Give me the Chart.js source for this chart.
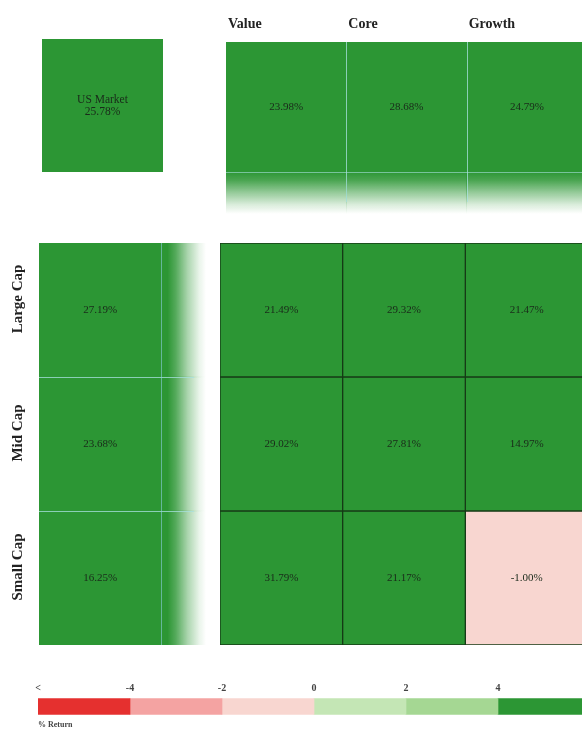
<!DOCTYPE html>
<html>
<head>
<meta charset="utf-8">
<script src="https://cdn.jsdelivr.net/npm/chart.js@4/dist/chart.umd.min.js"></script>
<style>
  html, body { margin:0; padding:0; background:#fff; width:582px; height:731px; overflow:hidden; }
  .c { position:absolute; }
</style>
</head>
<body>
<div class="c" style="left:42px;top:39px;width:121px;height:133px;"><canvas id="mkt"></canvas></div>
<div class="c" style="left:0px;top:0px;width:600px;height:214px;"><canvas id="top"></canvas></div>
<div class="c" style="left:0px;top:243px;width:206px;height:402px;"><canvas id="left"></canvas></div>
<div class="c" style="left:220px;top:243px;width:368px;height:402px;"><canvas id="grid"></canvas></div>
<div class="c" style="left:0px;top:672px;width:600px;height:59px;"><canvas id="legend"></canvas></div>
<script>
// ---------- DATA ----------
const styles = ['Value', 'Core', 'Growth'];
const sizes = ['Large Cap', 'Mid Cap', 'Small Cap'];
const marketLabel = 'US Market';
const marketReturn = 25.78;
const styleReturns = [23.98, 28.68, 24.79];
const sizeReturns = [27.19, 23.68, 16.25];
const largeCapReturns = [21.49, 29.32, 21.47];
const midCapReturns = [29.02, 27.81, 14.97];
const smallCapReturns = [31.79, 21.17, -1.00];
const legendBreaks = [-6, -4, -2, 0, 2, 4, 6];
const legendTickLabels = ['<', '-4', '-2', '0', '2', '4', '>'];
const legendColors = ['#e5302f', '#f4a3a2', '#f8d6d0', '#c4e6b5', '#a5d793', '#2c9634'];
const legendTitle = '% Return';

// ---------- HELPERS ----------
const SERIF = "'Liberation Serif', 'DejaVu Serif', serif";
function colorFor(v) {
  for (let i = 0; i < legendColors.length; i++) {
    if (v < legendBreaks[i + 1]) return legendColors[i];
  }
  return legendColors[legendColors.length - 1];
}
const fmt = v => v.toFixed(2) + '%';
const base = {
  responsive: true, maintainAspectRatio: false, animation: false,
  plugins: { legend: { display: false }, tooltip: { enabled: false } },
  events: []
};
const GREEN = legendColors[5];
const CELL_FONT = '11px ' + SERIF;
const CELL_TEXT = '#1a2a1a';
function hexA(hex, a) {
  const n = parseInt(hex.slice(1), 16);
  return `rgba(${(n >> 16) & 255},${(n >> 8) & 255},${n & 255},${a})`;
}
const SOLID_TOP = 0.755;   // fraction of the top strip that is solid
const SOLID_LEFT = 0.77;   // fraction of the left strip that is solid

// ---------- US MARKET ----------
new Chart(document.getElementById('mkt'), {
  type: 'bar',
  data: { labels: [marketLabel], datasets: [{ data: [1], backgroundColor: colorFor(marketReturn),
    categoryPercentage: 1, barPercentage: 1, borderWidth: 0 }] },
  options: Object.assign({}, base, {
    layout: { padding: 0 },
    scales: { x: { display: false }, y: { display: false, min: 0, max: 1 } }
  }),
  plugins: [{
    id: 'mktText',
    afterDatasetsDraw(chart) {
      const ctx = chart.ctx, el = chart.getDatasetMeta(0).data[0];
      const cy = (el.y + el.base) / 2;
      ctx.save();
      ctx.fillStyle = CELL_TEXT;
      ctx.font = '11.5px ' + SERIF;
      ctx.textAlign = 'center'; ctx.textBaseline = 'middle';
      ctx.fillText(marketLabel, el.x, cy - 6);
      ctx.fillText(fmt(marketReturn), el.x, cy + 6);
      ctx.restore();
    }
  }]
});

// ---------- TOP STRIP (styles) ----------
new Chart(document.getElementById('top'), {
  type: 'bar',
  data: { labels: styles, datasets: [{ data: styles.map(() => 1),
    backgroundColor: (c) => {
      const a = c.chart.chartArea; if (!a) return GREEN;
      const col = colorFor(styleReturns[c.dataIndex]);
      const g = c.chart.ctx.createLinearGradient(0, a.top, 0, a.bottom);
      g.addColorStop(0, col); g.addColorStop(SOLID_TOP, col);
      g.addColorStop(SOLID_TOP + 0.05, hexA(col, 0.85));
      g.addColorStop(SOLID_TOP + 0.12, hexA(col, 0.5));
      g.addColorStop(SOLID_TOP + 0.19, hexA(col, 0.18));
      g.addColorStop(1, hexA(col, 0));
      return g;
    },
    categoryPercentage: 1, barPercentage: 1, borderWidth: 0 }] },
  options: Object.assign({}, base, {
    layout: { padding: { top: 42, left: 226, right: 13, bottom: 0 } },
    scales: { x: { display: false }, y: { display: false, min: 0, max: 1 } }
  }),
  plugins: [{
    id: 'topText',
    afterDatasetsDraw(chart) {
      const ctx = chart.ctx, a = chart.chartArea;
      const els = chart.getDatasetMeta(0).data;
      const ySolid = a.top + (a.bottom - a.top) * SOLID_TOP;
      ctx.save();
      ctx.strokeStyle = 'rgba(170,225,225,0.75)'; ctx.lineWidth = 1;
      els.forEach((el, i) => {
        if (i === 0) return;
        const x = Math.round(el.x - el.width / 2) + 0.5;
        ctx.beginPath(); ctx.moveTo(x, a.top); ctx.lineTo(x, a.bottom - 12); ctx.stroke();
      });
      ctx.strokeStyle = 'rgba(170,225,225,0.6)';
      ctx.beginPath(); ctx.moveTo(a.left, Math.round(ySolid) + 0.5); ctx.lineTo(a.right, Math.round(ySolid) + 0.5); ctx.stroke();
      ctx.fillStyle = CELL_TEXT; ctx.font = CELL_FONT;
      ctx.textAlign = 'center'; ctx.textBaseline = 'middle';
      els.forEach((el, i) => ctx.fillText(fmt(styleReturns[i]), el.x, (a.top + ySolid) / 2));
      ctx.fillStyle = '#222'; ctx.font = 'bold 14px ' + SERIF;
      ctx.textAlign = 'left';
      els.forEach((el, i) => ctx.fillText(styles[i], el.x - el.width / 2 + 2, 24));
      ctx.restore();
    }
  }]
});

// ---------- LEFT STRIP (sizes) ----------
new Chart(document.getElementById('left'), {
  type: 'bar',
  data: { labels: sizes, datasets: [{ data: sizes.map(() => 1),
    backgroundColor: (c) => {
      const a = c.chart.chartArea; if (!a) return GREEN;
      const col = colorFor(sizeReturns[c.dataIndex]);
      const g = c.chart.ctx.createLinearGradient(a.left, 0, a.right, 0);
      g.addColorStop(0, col); g.addColorStop(SOLID_LEFT, col);
      g.addColorStop(SOLID_LEFT + 0.05, hexA(col, 0.8));
      g.addColorStop(SOLID_LEFT + 0.12, hexA(col, 0.4));
      g.addColorStop(SOLID_LEFT + 0.19, hexA(col, 0.1));
      g.addColorStop(1, hexA(col, 0));
      return g;
    },
    categoryPercentage: 1, barPercentage: 1, borderWidth: 0 }] },
  options: Object.assign({}, base, {
    indexAxis: 'y',
    layout: { padding: { top: 0, left: 39, right: 0, bottom: 0 } },
    scales: { y: { display: false }, x: { display: false, min: 0, max: 1 } }
  }),
  plugins: [{
    id: 'leftText',
    afterDatasetsDraw(chart) {
      const ctx = chart.ctx, a = chart.chartArea;
      const els = chart.getDatasetMeta(0).data;
      const xSolid = a.left + (a.right - a.left) * SOLID_LEFT;
      ctx.save();
      ctx.strokeStyle = 'rgba(170,225,225,0.75)'; ctx.lineWidth = 1;
      els.forEach((el, i) => {
        if (i === 0) return;
        const y = Math.round(el.y - el.height / 2) + 0.5;
        ctx.beginPath(); ctx.moveTo(a.left, y); ctx.lineTo(a.right - 12, y); ctx.stroke();
      });
      ctx.strokeStyle = 'rgba(140,205,225,0.6)';
      const xl = Math.round(xSolid - 7) + 0.5;
      ctx.beginPath(); ctx.moveTo(xl, a.top); ctx.lineTo(xl, a.bottom); ctx.stroke();
      ctx.fillStyle = CELL_TEXT; ctx.font = CELL_FONT;
      ctx.textAlign = 'center'; ctx.textBaseline = 'middle';
      els.forEach((el, i) => ctx.fillText(fmt(sizeReturns[i]), (a.left + xl) / 2, el.y));
      ctx.fillStyle = '#222'; ctx.font = 'bold 15px ' + SERIF;
      els.forEach((el, i) => {
        ctx.save();
        ctx.translate(18, el.y - 11);
        ctx.rotate(-Math.PI / 2);
        ctx.fillText(sizes[i], 0, 0);
        ctx.restore();
      });
      ctx.restore();
    }
  }]
});

// ---------- MAIN GRID ----------
const gridRows = [largeCapReturns, midCapReturns, smallCapReturns];
new Chart(document.getElementById('grid'), {
  type: 'bar',
  data: {
    labels: styles,
    datasets: gridRows.map((vals, r) => ({
      label: sizes[r], data: vals.map(() => 1), returns: vals,
      backgroundColor: vals.map(colorFor),
      borderColor: '#163a16', borderWidth: 1, borderSkipped: false,
      categoryPercentage: 1, barPercentage: 1
    }))
  },
  options: Object.assign({}, base, {
    layout: { padding: 0 },
    scales: {
      x: { display: false, stacked: true },
      y: { display: false, stacked: true, reverse: true, min: 0, max: 3 }
    }
  }),
  plugins: [{
    id: 'gridText',
    afterDatasetsDraw(chart) {
      const ctx = chart.ctx;
      ctx.save();
      ctx.fillStyle = CELL_TEXT; ctx.font = CELL_FONT;
      ctx.textAlign = 'center'; ctx.textBaseline = 'middle';
      chart.data.datasets.forEach((ds, d) => {
        chart.getDatasetMeta(d).data.forEach((el, i) => {
          ctx.fillText(fmt(ds.returns[i]), el.x, (el.y + el.base) / 2);
        });
      });
      ctx.restore();
    }
  }]
});

// ---------- LEGEND ----------
new Chart(document.getElementById('legend'), {
  type: 'bar',
  data: {
    labels: [legendTitle],
    datasets: legendColors.map((col, i) => ({
      data: [[legendBreaks[i], legendBreaks[i + 1]]],
      backgroundColor: col, borderWidth: 0, barThickness: 16, grouped: false
    }))
  },
  options: Object.assign({}, base, {
    indexAxis: 'y',
    layout: { padding: { top: 7, left: 38, right: 10, bottom: 15 } },
    scales: {
      y: { display: false },
      x: {
        position: 'top', min: legendBreaks[0], max: legendBreaks[legendBreaks.length - 1],
        grid: { display: false, drawTicks: false, tickLength: 0 }, border: { display: false },
        ticks: {
          stepSize: 2, padding: 3, color: '#444', maxRotation: 0, autoSkip: false,
          font: { family: SERIF, size: 10, weight: 'bold' },
          callback: (v) => { const k = legendBreaks.indexOf(v); return k >= 0 ? legendTickLabels[k] : ''; }
        }
      }
    }
  }),
  plugins: [{
    id: 'legendTitle',
    afterDraw(chart) {
      const ctx = chart.ctx;
      ctx.save();
      ctx.fillStyle = '#444'; ctx.font = 'bold 8px ' + SERIF;
      ctx.textAlign = 'left'; ctx.textBaseline = 'middle';
      ctx.fillText(legendTitle, chart.chartArea.left, chart.chartArea.bottom + 9);
      ctx.restore();
    }
  }]
});
</script>
</body>
</html>
